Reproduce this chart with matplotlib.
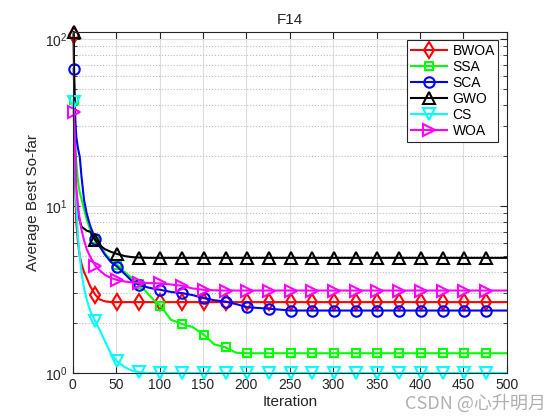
import matplotlib
matplotlib.use('Agg')
import matplotlib.pyplot as plt

iters = [1, 2, 3, 4, 6, 8, 10, 13, 16, 20, 26, 31, 37, 44, 51, 60, 68, 76, 86, 94,
         101, 113, 126, 138, 151, 163, 176, 188, 201, 226, 251, 276, 301, 326, 351,
         376, 401, 426, 451, 476, 500]

bwoa = [105, 30, 12, 8.0, 6.0, 5.0, 4.5, 4.0, 3.7, 3.3, 2.93, 2.75, 2.68, 2.65, 2.65,
        2.65, 2.65, 2.65, 2.65, 2.65, 2.65, 2.65, 2.65, 2.65, 2.65, 2.65, 2.65, 2.65,
        2.65, 2.65, 2.65, 2.65, 2.65, 2.65, 2.65, 2.65, 2.65, 2.65, 2.65, 2.65, 2.65]
ssa = [43, 30, 22, 18, 14, 12, 11, 9.5, 8.3, 7.2, 6.3, 5.8, 5.2, 4.7, 4.45, 4.0, 3.7,
       3.42, 3.0, 2.7, 2.52, 2.08, 1.96, 1.88, 1.69, 1.48, 1.42, 1.32, 1.31, 1.31, 1.31,
       1.31, 1.31, 1.31, 1.31, 1.31, 1.31, 1.31, 1.31, 1.31, 1.31]
sca = [66, 45, 32, 26, 22, 19.7, 15, 10.8, 9.0, 7.6, 6.3, 5.7, 5.1, 4.6, 4.33, 3.9,
       3.55, 3.36, 3.25, 3.18, 3.14, 3.05, 3.0, 2.92, 2.8, 2.72, 2.67, 2.58, 2.47, 2.42,
       2.36, 2.36, 2.36, 2.36, 2.36, 2.36, 2.36, 2.36, 2.36, 2.36, 2.36]
gwo = [110, 40, 16, 10.5, 9.0, 8.2, 7.5, 7.3, 7.1, 7.0, 6.2, 5.8, 5.5, 5.3, 5.15, 5.0,
       4.93, 4.9, 4.88, 4.88, 4.88, 4.88, 4.88, 4.88, 4.88, 4.88, 4.88, 4.88, 4.88, 4.88,
       4.88, 4.88, 4.88, 4.88, 4.88, 4.88, 4.88, 4.88, 4.88, 4.88, 4.88]
cs = [42, 25, 15, 10.4, 6.5, 5.0, 4.0, 3.2, 2.75, 2.35, 2.03, 1.8, 1.55, 1.3, 1.17,
      1.08, 1.03, 1.01, 1.0, 0.998, 0.998, 0.998, 0.998, 0.998, 0.998, 0.998, 0.998,
      0.998, 0.998, 0.998, 0.998, 0.998, 0.998, 0.998, 0.998, 0.998, 0.998, 0.998,
      0.998, 0.998, 0.998]
woa = [36.7, 25, 17, 13, 10, 8.2, 7.2, 6.2, 5.5, 4.97, 4.37, 4.1, 3.86, 3.7, 3.6, 3.52,
       3.48, 3.46, 3.45, 3.44, 3.43, 3.38, 3.32, 3.2, 3.14, 3.12, 3.11, 3.11, 3.11, 3.11,
       3.11, 3.11, 3.11, 3.11, 3.11, 3.11, 3.11, 3.11, 3.11, 3.11, 3.11]

names = ['BWOA', 'SSA', 'SCA', 'GWO', 'CS', 'WOA']
series = [bwoa, ssa, sca, gwo, cs, woa]
colors = ['#ff0000', '#00ff00', '#0000ff', '#000000', '#00ffff', '#ff00ff']
markers = ['d', 's', 'o', '^', 'v', '>']
msizes = [8, 6, 7.5, 8, 8, 8]

# markers every 25 iterations starting at 1
mark_idx = [i for i, it in enumerate(iters) if (it - 1) % 25 == 0 and it <= 476]

plt.rcParams['font.family'] = ['Liberation Sans', 'DejaVu Sans']
fig = plt.figure(figsize=(5.6, 4.2), dpi=100)
ax = fig.add_axes([0.13, 0.112, 0.775, 0.812])

for name, vals, c, m, s in zip(names, series, colors, markers, msizes):
    ax.semilogy(iters, vals, color=c, lw=1.5, marker=m, markevery=mark_idx,
                ms=s, mfc='none', mew=1.5, label=name, clip_on=False)

ax.set_xlim(0, 500)
ax.set_ylim(0.998, 110)
ax.set_xticks(range(0, 501, 50))
ax.grid(True, which='major', color='#dcdcdc', lw=0.8)
ax.grid(True, which='minor', axis='y', color='#bbbbbb', ls=':', lw=0.8)
ax.set_axisbelow(True)
ax.tick_params(which='both', direction='in', top=True, right=True,
               labelsize=10, colors='#262626')
ax.tick_params(which='major', length=5)
ax.tick_params(which='minor', length=3)
for s in ax.spines.values():
    s.set_color('#262626')

ax.set_title('F14', fontsize=11, color='#262626')
ax.set_xlabel('Iteration', fontsize=11, color='#262626', labelpad=2)
ax.set_ylabel('Average Best So-far', fontsize=11, color='#262626')

leg = ax.legend(loc='upper right', fontsize=10, handlelength=2.6, fancybox=False,
                edgecolor='#262626', framealpha=1, borderpad=0.25, labelspacing=0.15,
                handletextpad=0.4, borderaxespad=0.6)
leg.get_frame().set_linewidth(0.8)

fig.text(0.975, 0.018, 'CSDN @心升明月', ha='right', va='bottom', fontsize=13,
         color='#b0b0b0', family=['Noto Sans CJK SC', 'DejaVu Sans'])

fig.savefig('out.png', dpi=100)
